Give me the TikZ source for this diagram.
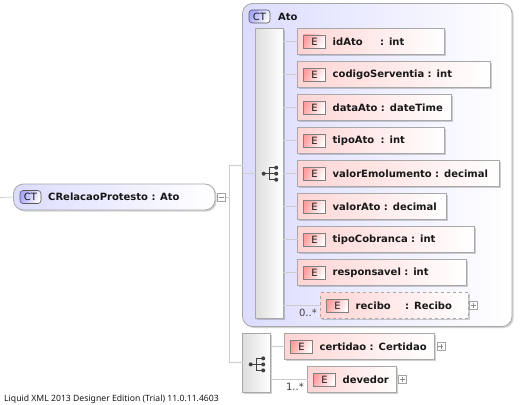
\documentclass[tikz,border=0pt]{standalone}
\usepackage{fontspec}
\setmainfont{DejaVu Sans}
\newfontfamily\footfont{Noto Sans}
\usetikzlibrary{positioning,shadows}
\definecolor{edgegray}{HTML}{A8A8A8}
\definecolor{linkgray}{HTML}{CCCCCC}
\definecolor{inktext}{HTML}{181818}
\definecolor{ctblue}{HTML}{DCDCFF}
\definecolor{elpink}{HTML}{FFD4D4}
\tikzset{
  softshadow/.style={drop shadow={shadow xshift=1.5pt, shadow yshift=-1.5pt, opacity=0.18, fill=black}},
  link/.style={draw=linkgray, line width=0.7pt},
  elbox/.style={draw=edgegray, line width=0.8pt, softshadow, left color=elpink, right color=white, anchor=north west, outer sep=0pt,
    inner xsep=0pt, inner ysep=0pt, minimum height=26pt, text width=#1pt, align=left, text=inktext, font=\fontsize{10}{12}\selectfont\bfseries,
    execute at begin node={\hspace*{35.2pt}}},
  ebadge/.style={draw=black!50, line width=0.8pt, left color=red!38, right color=white, shading angle=65, minimum width=22pt, minimum height=13pt, inner sep=0pt, outer sep=0pt,
    text=inktext, font=\fontsize{10}{12}\selectfont},
  ctbadge/.style={draw=black!65, rounded corners=3pt, line width=0.6pt, left color=blue!35, right color=white, shading angle=65, minimum width=21pt, minimum height=13pt, inner sep=0pt, outer sep=0pt,
    text=inktext, font=\fontsize{10}{12}\selectfont},
  seqbar/.style={draw=edgegray, line width=0.8pt, softshadow, left color=black!13, right color=white, anchor=north west, outer sep=0pt, inner sep=0pt},
  toggle/.style={draw=linkgray!80!black, line width=0.5pt, fill=white, minimum size=8pt, inner sep=0pt, outer sep=0pt},
  plusbox/.style={toggle, path picture={\draw[black!45, line width=0.4pt] (-2.5pt,0)--(2.5pt,0) (0,-2.5pt)--(0,2.5pt);}},
  minusbox/.style={toggle, path picture={\draw[black!45, line width=0.4pt] (-2.5pt,0)--(2.5pt,0);}},
  occurs/.style={inner sep=0pt, text=black!75, font=\fontsize{10}{12}\selectfont},
  seqicon/.pic={
    \draw[black!75, line width=0.8pt] (0,0)--(5.5,0) (5.5,6)--(5.5,-6) (5.5,6)--(12.5,6) (5.5,0)--(12.5,0) (5.5,-6)--(12.5,-6);
    \fill[black!75] (0,0) circle (2) (12.5,6) circle (2) (12.5,0) circle (2) (12.5,-6) circle (2);
  }
}
\begin{document}
\begin{tikzpicture}[x=1pt, y=1pt]
\useasboundingbox (0,0) rectangle (526,-404);
% outer complex type
\node[draw=edgegray, line width=0.8pt, softshadow, rounded corners=10pt, left color=ctblue, right color=white, anchor=north west, outer sep=0pt, inner sep=0pt, minimum width=201.5pt, minimum height=26pt] (CRelacao) at (13.5,-184) {};
\node[ctbadge, right=6.5pt of CRelacao.west] (CRelacaoCT) {CT};
\node[right=7pt of CRelacaoCT, inner sep=0pt, text=inktext, font=\fontsize{10}{12}\selectfont\bfseries] (CRelacaoName) {CRelacaoProtesto : Ato};
\node[minusbox] (CRelacaoMinus) at (221.5,-197.5) {};
\coordinate (trunk) at (229.5,-197.5);
\coordinate (inlet) at (0,-197.5);
% Ato container
\node[draw=edgegray, line width=0.8pt, softshadow, rounded corners=10pt, left color=ctblue, right color=white, anchor=north west, outer sep=0pt, inner sep=0pt, minimum width=269.5pt, minimum height=323pt] (boxAto) at (242.5,-3.5) {};
\node[ctbadge] (boxAtoCT) at (259.5,-16.5) {CT};
\node[right=8pt of boxAtoCT, inner sep=0pt, text=inktext, font=\fontsize{10}{12}\selectfont\bfseries] (boxAtoName) {Ato};
\node[seqbar, minimum width=27.5pt, minimum height=289.5pt] (seqAto) at (255.5,-28.5) {};
\pic at (263.7,-173.7) {seqicon};
% elements of Ato
\node[elbox=147] (idAto) at (297.5,-28.5) {idAto\hspace{14pt} : int};
\node[ebadge, right=6pt of idAto.west] (idAtoE) {E};
\node[elbox=193] (codigoServentia) at (297.5,-61.5) {codigoServentia : int};
\node[ebadge, right=6pt of codigoServentia.west] (codigoServentiaE) {E};
\node[elbox=154] (dataAto) at (297.5,-94.5) {dataAto : dateTime};
\node[ebadge, right=6pt of dataAto.west] (dataAtoE) {E};
\node[elbox=147] (tipoAto) at (297.5,-127.5) {tipoAto\hspace{3pt} : int};
\node[ebadge, right=6pt of tipoAto.west] (tipoAtoE) {E};
\node[elbox=202] (valorEmolumento) at (297.5,-160.5) {valorEmolumento : decimal};
\node[ebadge, right=6pt of valorEmolumento.west] (valorEmolumentoE) {E};
\node[elbox=149] (valorAto) at (297.5,-193.5) {valorAto : decimal};
\node[ebadge, right=6pt of valorAto.west] (valorAtoE) {E};
\node[elbox=177] (tipoCobranca) at (297.5,-226.5) {tipoCobranca : int};
\node[ebadge, right=6pt of tipoCobranca.west] (tipoCobrancaE) {E};
\node[elbox=169] (responsavel) at (297.5,-259.5) {responsavel : int};
\node[ebadge, right=6pt of responsavel.west] (responsavelE) {E};
\node[elbox=147.5, dashed] (recibo) at (320.5,-292.5) {recibo\hspace{11pt} : Recibo};
\node[ebadge, right=6pt of recibo.west] (reciboE) {E};
\node[plusbox] (reciboPlus) at (473.5,-305.5) {};
\node[occurs, anchor=base east] (reciboOcc) at (317,-316) {0..*};
% second sequence
\node[seqbar, minimum width=28pt, minimum height=58.5pt] (seqMain) at (242.5,-333.5) {};
\pic at (250.7,-364.4) {seqicon};
\node[elbox=150] (certidao) at (284.5,-333.5) {certidao : Certidao};
\node[ebadge, right=6pt of certidao.west] (certidaoE) {E};
\node[plusbox] (certidaoPlus) at (440.8,-346.5) {};
\node[elbox=89] (devedor) at (307.5,-366.5) {devedor};
\node[ebadge, right=6pt of devedor.west] (devedorE) {E};
\node[plusbox] (devedorPlus) at (402.5,-379.5) {};
\node[occurs, anchor=base east] (devedorOcc) at (304,-390) {1..*};
% connectors
\draw[link] (inlet) -- (CRelacao.west);
\draw[link] (CRelacaoMinus.east) -- (trunk);
\draw[link] (boxAto.west) -| (trunk);
\draw[link] (seqMain.west) -| (trunk);
\draw[link] (boxAto.west |- seqAto.west) -- (seqAto.west);
\draw[link] (seqAto.east |- idAto.west) -- (idAto.west);
\draw[link] (seqAto.east |- codigoServentia.west) -- (codigoServentia.west);
\draw[link] (seqAto.east |- dataAto.west) -- (dataAto.west);
\draw[link] (seqAto.east |- tipoAto.west) -- (tipoAto.west);
\draw[link] (seqAto.east |- valorEmolumento.west) -- (valorEmolumento.west);
\draw[link] (seqAto.east |- valorAto.west) -- (valorAto.west);
\draw[link] (seqAto.east |- tipoCobranca.west) -- (tipoCobranca.west);
\draw[link] (seqAto.east |- responsavel.west) -- (responsavel.west);
\draw[link] (seqAto.east |- recibo.west) -- (recibo.west);
\draw[link] (seqMain.east |- certidao.west) -- (certidao.west);
\draw[link] (seqMain.east |- devedor.west) -- (devedor.west);
% trial footer
\node[anchor=base west, inner sep=0pt, text=inktext, font=\footfont\fontsize{8.65}{10}\selectfont] (footer) at (4,-401) {Liquid XML 2013 Designer Edition (Trial) 11.0.11.4603};
\end{tikzpicture}
\end{document}
